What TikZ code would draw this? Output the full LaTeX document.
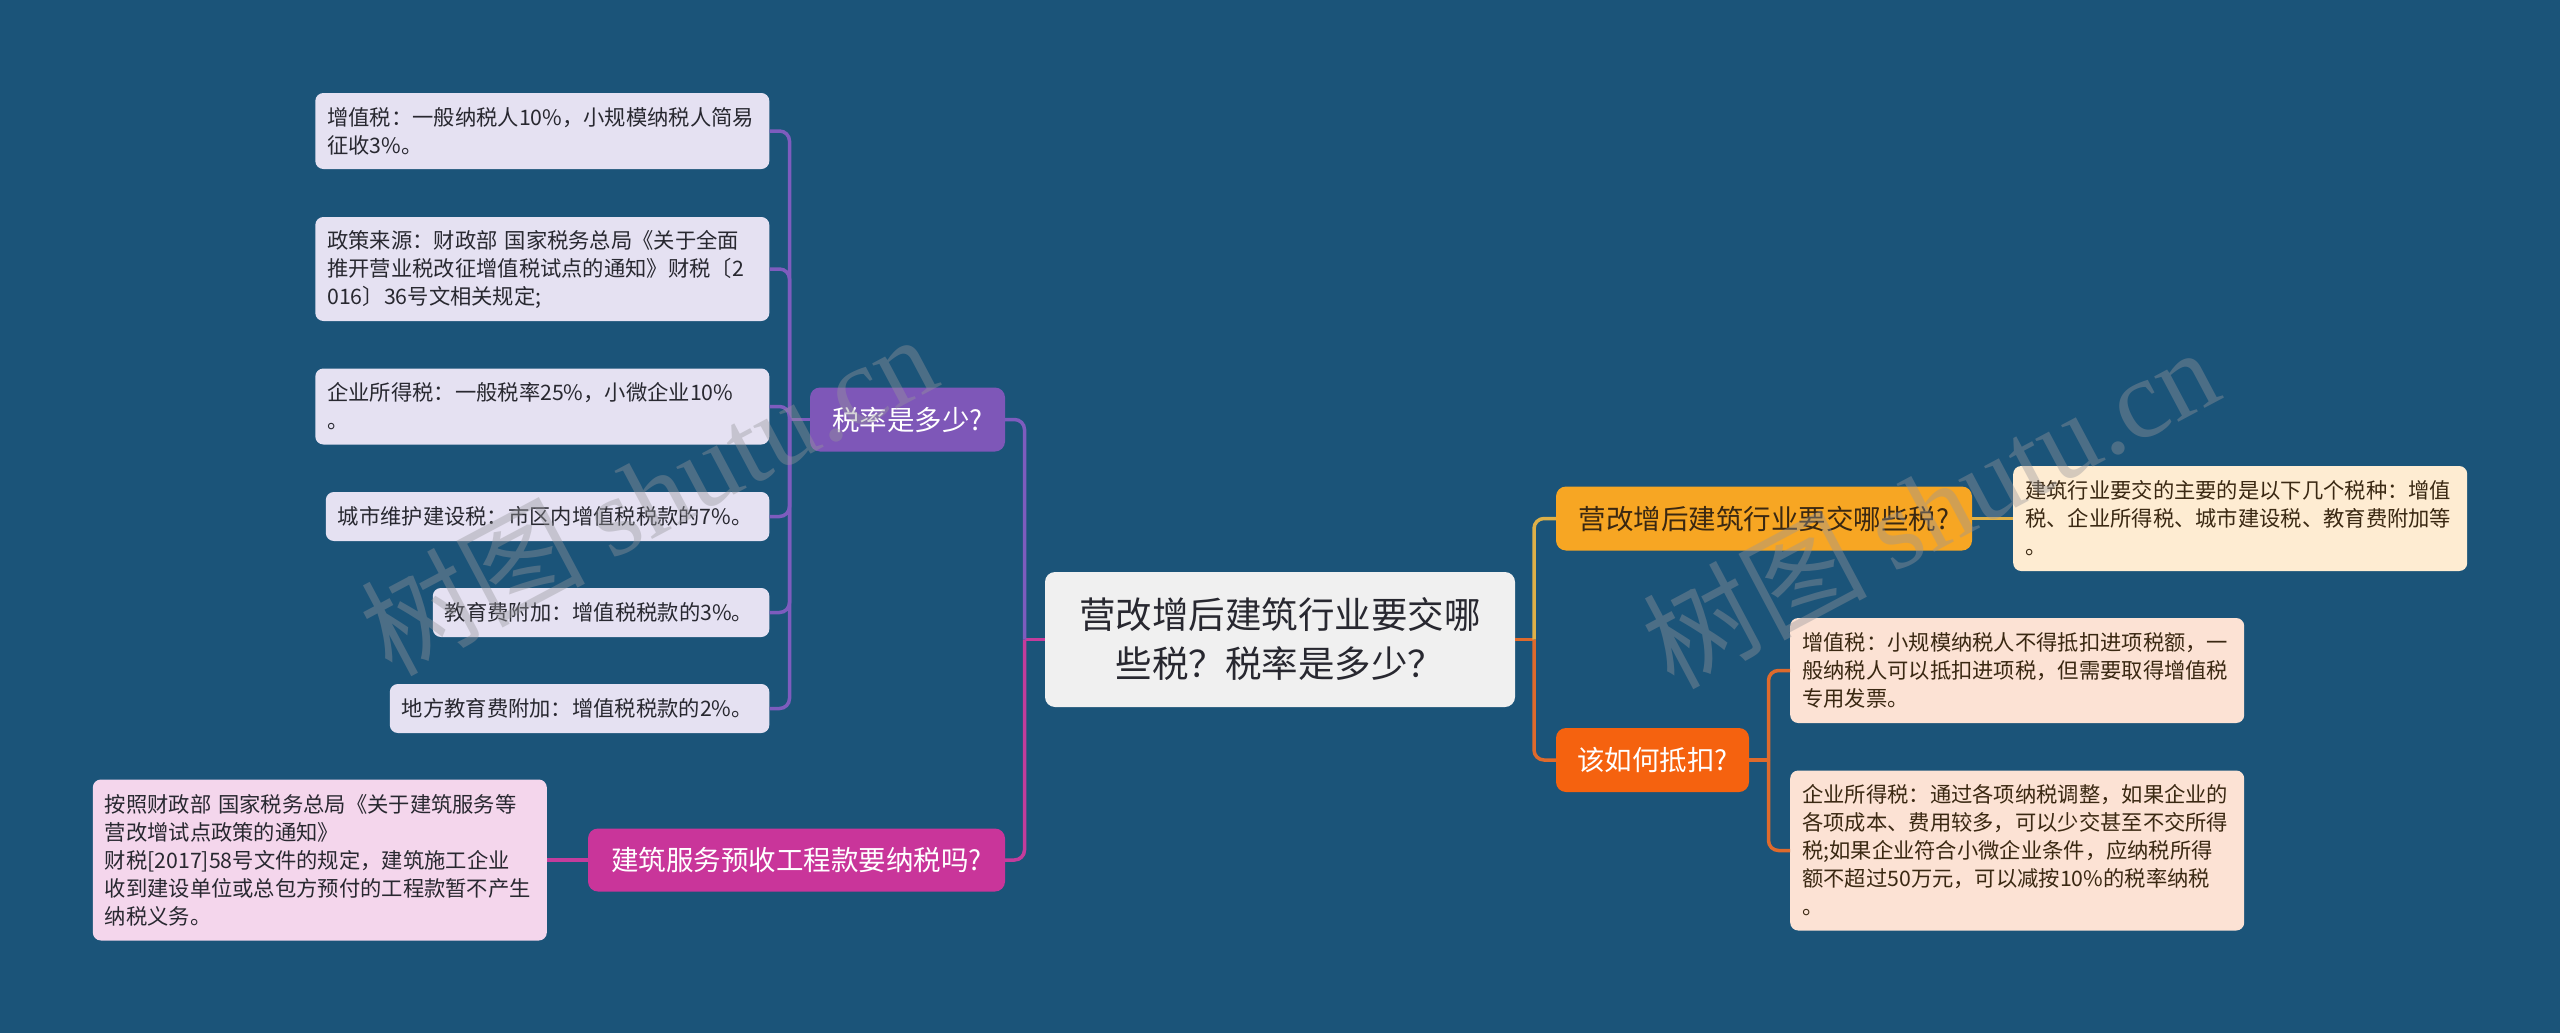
\documentclass[tikz,border=0pt]{standalone}
\usepackage{fontspec}
\setmainfont{Noto Sans CJK SC}
\newfontfamily\wmlatin{Liberation Serif}
\definecolor{bg}{RGB}{27,84,121}
\definecolor{rootfill}{RGB}{240,240,240}
\definecolor{ratefill}{RGB}{126,87,184}
\definecolor{lavender}{RGB}{229,225,242}
\definecolor{buildfill}{RGB}{201,53,154}
\definecolor{pinkfill}{RGB}{244,214,236}
\definecolor{taxfill}{RGB}{247,166,35}
\definecolor{creamfill}{RGB}{254,236,210}
\definecolor{deductfill}{RGB}{245,98,15}
\definecolor{peachfill}{RGB}{252,226,212}
\definecolor{purpleline}{RGB}{126,92,190}
\definecolor{magentaline}{RGB}{196,60,156}
\definecolor{yellowline}{RGB}{222,176,72}
\definecolor{orangeline}{RGB}{222,106,44}
\definecolor{darktext}{RGB}{40,40,48}
\definecolor{browntext}{RGB}{58,40,18}
\definecolor{wmgray}{RGB}{150,150,155}
\tikzset{
  rootbox/.style={rounded corners=10pt, fill=rootfill, text=darktext, align=center,
    minimum width=470pt, minimum height=135pt, inner sep=0pt,
    font=\fontsize{36.5}{49}\selectfont},
  branchbox/.style={rounded corners=10pt, inner sep=0pt, align=center,
    font=\fontsize{27.5}{34}\selectfont},
  leafbox/.style={rounded corners=8pt, inner xsep=12pt, inner ysep=0pt, align=left,
    text=darktext, font=\fontsize{21.3}{28}\selectfont},
  conn/.style={line width=3.5pt, rounded corners=10pt},
  wm/.style={text=wmgray, opacity=0.4, rotate=28, font=\fontsize{112}{112}\selectfont}
}
\begin{document}
\begin{tikzpicture}[x=1pt,y=-1pt]
\useasboundingbox (0,0) rectangle (2560,1033);
\fill[bg] (0,0) rectangle (2560,1033);

% root
\node[rootbox] (root) at (1280,639.5) {营改增后建筑行业要交哪\\些税？税率是多少？};

% left branches
\node[branchbox, fill=ratefill, text=white, minimum width=195pt, minimum height=64pt] (rate) at (907.5,419.5) {税率是多少?};
\node[branchbox, fill=buildfill, text=white, minimum width=417pt, minimum height=63pt] (build) at (796.5,860) {建筑服务预收工程款要纳税吗?};

% right branches
\node[branchbox, fill=taxfill, text=browntext, minimum width=416pt, minimum height=64pt] (tax) at (1764,518.5) {营改增后建筑行业要交哪些税?};
\node[branchbox, fill=deductfill, text=white, minimum width=193pt, minimum height=64pt] (deduct) at (1652.5,760) {该如何抵扣?};

% leaves of rate
\node[leafbox, fill=lavender, anchor=east, text width=430pt, minimum height=76pt] (l1) at (769.5,131) {增值税：一般纳税人10\%，小规模纳税人简易\\征收3\%。};
\node[leafbox, fill=lavender, anchor=east, text width=430pt, minimum height=104pt] (l2) at (769.5,269) {政策来源：财政部~国家税务总局《关于全面\\推开营业税改征增值税试点的通知》财税〔2\\016〕36号文相关规定;};
\node[leafbox, fill=lavender, anchor=east, text width=430pt, minimum height=76pt] (l3) at (769.5,406.5) {企业所得税：一般税率25\%，小微企业10\%\\。};
\node[leafbox, fill=lavender, anchor=east, text width=419.5pt, minimum height=49pt] (l4) at (769.5,516.5) {城市维护建设税：市区内增值税税款的7\%。};
\node[leafbox, fill=lavender, anchor=east, text width=312.5pt, minimum height=49pt] (l5) at (769.5,612.5) {教育费附加：增值税税款的3\%。};
\node[leafbox, fill=lavender, anchor=east, text width=355.5pt, minimum height=49pt] (l6) at (769.5,708.5) {地方教育费附加：增值税税款的2\%。};

% leaf of build
\node[leafbox, fill=pinkfill, anchor=east, text width=430pt, minimum height=161pt] (pk) at (547,860) {按照财政部~国家税务总局《关于建筑服务等\\营改增试点政策的通知》\\财税[2017]58号文件的规定，建筑施工企业\\收到建设单位或总包方预付的工程款暂不产生\\纳税义务。};

% leaf of tax
\node[leafbox, fill=creamfill, text=browntext, anchor=west, text width=430pt, minimum height=105pt] (cr) at (2013,518.5) {建筑行业要交的主要的是以下几个税种：增值\\税、企业所得税、城市建设税、教育费附加等\\。};

% leaves of deduct
\node[leafbox, fill=peachfill, text=browntext, anchor=west, text width=430pt, minimum height=105pt] (p1) at (1790,670.5) {增值税：小规模纳税人不得抵扣进项税额，一\\般纳税人可以抵扣进项税，但需要取得增值税\\专用发票。};
\node[leafbox, fill=peachfill, text=browntext, anchor=west, text width=430pt, minimum height=160pt] (p2) at (1790,850.5) {企业所得税：通过各项纳税调整，如果企业的\\各项成本、费用较多，可以少交甚至不交所得\\税;如果企业符合小微企业条件，应纳税所得\\额不超过50万元，可以减按10\%的税率纳税\\。};

% junction coordinates
\coordinate (rootL) at (1024.5,639.5);
\coordinate (rootR) at (1534,639.5);
\coordinate (rateJ) at (789.5,419.5);
\coordinate (dedJ) at (1768.5,760);

% connectors root -> left
\draw[conn, magentaline] (root.west) -- (rootL);
\draw[conn, purpleline] (rootL) |- (rate.east);
\draw[conn, magentaline] (rootL) |- (build.east);
% connectors root -> right
\draw[conn, orangeline] (root.east) -- (rootR);
\draw[conn, yellowline] (rootR) |- (tax.west);
\draw[conn, orangeline] (rootR) |- (deduct.west);
% rate -> leaves
\draw[conn, purpleline] (rate.west) -- (rateJ);
\foreach \n in {l1,l2,l3,l4,l5,l6}{
  \draw[conn, purpleline] (rateJ) |- (\n.east);
}
% build -> leaf
\draw[conn, magentaline] (build.west) -- (pk.east);
% tax -> leaf
\draw[conn, yellowline] (tax.east) -- (cr.west);
% deduct -> leaves
\draw[conn, orangeline] (deduct.east) -- (dedJ);
\draw[conn, orangeline] (dedJ) |- (p1.west);
\draw[conn, orangeline] (dedJ) |- (p2.west);

% watermarks
\node[wm] (wm1) at (648,493) {树图 {\wmlatin shutu.cn}};
\node[wm] (wm2) at (1930,506) {树图 {\wmlatin shutu.cn}};
\end{tikzpicture}
\end{document}
